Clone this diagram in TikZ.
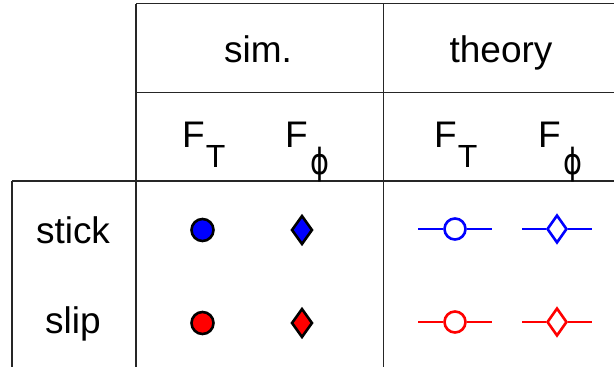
\documentclass[tikz,border=0pt]{standalone}
\usepackage{fontspec}
\setmainfont{Liberation Sans}
\newfontfamily\phifont{DejaVu Sans}
\usepackage{xcolor}
\usetikzlibrary{shapes.geometric, positioning}

\newcommand{\FT}{F\kern1pt\raisebox{-20pt}{\fontsize{32}{32}\selectfont T}}
\newcommand{\Fphi}{F\kern3pt\raisebox{-27pt}{\scalebox{0.8}[1]{\phifont\fontsize{36}{36}\selectfont\symbol{"03D5}}}}

\begin{document}
\begin{tikzpicture}[
    x=1pt, y=-1pt,
    grid/.style={draw=black!85, line width=1.3pt},
    lbl/.style={anchor=base, inner sep=0pt, font=\fontsize{37}{40}\selectfont},
    flbl/.style={anchor=base west, inner sep=0pt, font=\fontsize{37}{40}\selectfont},
    simdot/.style={circle, draw=black, line width=2.6pt, minimum size=22pt, inner sep=0pt},
    simdia/.style={diamond, draw=black, line width=2.6pt, minimum width=21pt, minimum height=29pt, inner sep=0pt},
    thdot/.style={circle, draw, line width=2.6pt, minimum size=21pt, inner sep=0pt},
    thdia/.style={diamond, draw, line width=2.6pt, minimum width=20pt, minimum height=28pt, inner sep=0pt},
    thline/.style={line width=2.6pt}
]
\useasboundingbox (0,0) rectangle (614,367);

% table rules
\draw[grid] (136,3.5) -- (614,3.5);
\draw[grid] (136,92.5) -- (614,92.5);
\draw[grid] (12,181) -- (614,181);
\draw[grid] (136,3.5) -- (136,367);
\draw[grid] (383.5,3.5) -- (383.5,367);
\draw[grid] (12,181) -- (12,367);

% headers
\node[lbl] (sim) at (258,62) {sim.};
\node[lbl] (theory) at (501,62) {theory};
\node[flbl] (simFT) at (182,147) {\FT};
\node[flbl] (simFphi) at (285,147) {\Fphi};
\node[flbl] (thFT) at (434,147) {\FT};
\node[flbl] (thFphi) at (538,147) {\Fphi};

% rows
\node[lbl] (stick) at (73,243) {stick};
\node[lbl] (slip) at (73,333) {slip};

\foreach \y/\c/\n in {230/blue/stick, 323/red/slip} {
  \node[simdot, fill=\c] (simT-\n) at (202.5,\y) {};
  \node[simdia, fill=\c] (simP-\n) at (302,\y) {};
  \node[thdot, \c] (thT-\n) at (455,\y-1) {};
  \node[thdia, \c] (thP-\n) at (557,\y-1) {};
  \draw[thline, \c] (thT-\n.west) -- ++(-25,0);
  \draw[thline, \c] (thT-\n.east) -- ++(25,0);
  \draw[thline, \c] (thP-\n.west) -- ++(-24,0);
  \draw[thline, \c] (thP-\n.east) -- ++(24,0);
}
\end{tikzpicture}
\end{document}
